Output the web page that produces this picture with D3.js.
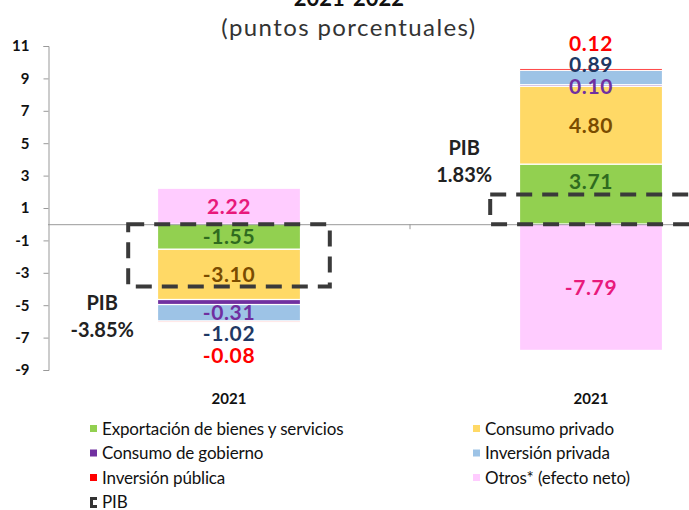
<!DOCTYPE html>
<html>
<head>
<meta charset="utf-8">
<script src="https://cdn.jsdelivr.net/npm/d3@7"></script>
<style>
  body { margin: 0; background: #fff; }
  text { font-family: Lato, "Open Sans", sans-serif; }
</style>
</head>
<body>
<div class="chart"></div>
<script>
// data (puntos porcentuales)
var years = ["2021", "2021"];
var seriesNames = ["Exportación de bienes y servicios", "Consumo privado", "Consumo de gobierno",
  "Inversión privada", "Inversión pública", "Otros* (efecto neto)"];
var exportacion = [-1.55, 3.71];
var consumoPrivado = [-3.10, 4.80];
var consumoGobierno = [-0.31, 0.10];
var inversionPrivada = [-1.02, 0.89];
var inversionPublica = [-0.08, 0.12];
var otros = [2.22, -7.79];
var pib = [-3.85, 1.83];
var yTicks = [-9, -7, -5, -3, -1, 1, 3, 5, 7, 9, 11];

// styles
var fills = ["#92d050", "#ffd966", "#7030a0", "#9dc3e6", "#ff0000", "#ffccff"];
var labelColors = ["#2f6b1f", "#7a4c00", "#7030a0", "#1f3864", "#ff0000", "#e8197b"];

var svgWidth = 689;
var svgHeight = 510;

// plain hyphen for negatives, like the original
var locale = d3.formatLocale({ decimal: ".", thousands: ",", grouping: [3], currency: ["", ""], minus: "-" });
var fmt = locale.format(".2f");

var svg = d3.select(".chart")
  .append("svg")
  .attr("width", svgWidth)
  .attr("height", svgHeight);

// build table for the stack
var allSeries = [exportacion, consumoPrivado, consumoGobierno, inversionPrivada, inversionPublica, otros];
var keys = d3.range(allSeries.length);
var table = years.map(function(y, i) {
  var row = { idx: i };
  keys.forEach(function(k) { row[k] = allSeries[k][i]; });
  return row;
});

var stacked = d3.stack()
  .keys(keys)
  .offset(d3.stackOffsetDiverging)(table);

var x = d3.scaleBand()
  .domain(d3.range(years.length))
  .range([48, 772])
  .paddingInner(0.605)
  .paddingOuter(0.3025);

var y = d3.scaleLinear()
  .domain([-9, 11])
  .range([370, 46]);

// title (cut at top as in the original)
svg.append("text")
  .attr("x", 349).attr("y", 6)
  .attr("text-anchor", "middle")
  .style("font-size", "22px").style("font-weight", "bold").style("fill", "#111")
  .text("2021-2022");
svg.append("text")
  .attr("x", 349).attr("y", 36)
  .attr("text-anchor", "middle")
  .style("font-size", "24px").style("letter-spacing", "1.4px").style("fill", "#333")
  .text("(puntos porcentuales)");

// y axis
var yAxis = svg.append("g")
  .attr("transform", "translate(48.5,0)")
  .call(d3.axisLeft(y).tickValues(yTicks).tickSize(5).tickPadding(14).tickFormat(locale.format("d")));
yAxis.select(".domain").attr("stroke", "#999");
yAxis.selectAll(".tick line").attr("stroke", "#999");
yAxis.selectAll(".tick text")
  .style("font-size", "15px").style("font-weight", "bold").style("fill", "#111")
  .style("font-family", "Lato, sans-serif");

// bars
var layers = svg.append("g").selectAll("g")
  .data(stacked)
  .enter()
  .append("g")
  .attr("fill", function(d) { return fills[d.key]; });

layers.selectAll("rect")
  .data(function(d) { return d; })
  .enter()
  .append("rect")
  .attr("x", function(d) { return x(d.data.idx); })
  .attr("width", x.bandwidth())
  .attr("y", function(d) { return y(d[1]); })
  .attr("height", function(d) { return y(d[0]) - y(d[1]); })
  .attr("stroke", "#fff")
  .attr("stroke-width", 1.2);

// zero line with category ticks
svg.append("line")
  .attr("x1", 48).attr("x2", svgWidth)
  .attr("y1", y(0) + 0.5).attr("y2", y(0) + 0.5)
  .attr("stroke", "#999");
svg.append("line")
  .attr("x1", 48 + x.step()).attr("x2", 48 + x.step())
  .attr("y1", y(0)).attr("y2", y(0) + 5)
  .attr("stroke", "#999");

// PIB dashed boxes
var boxHalf = x.bandwidth() * 0.705;
svg.append("g").selectAll("rect")
  .data(pib)
  .enter()
  .append("rect")
  .attr("x", function(d, i) { return x(i) + x.bandwidth() / 2 - boxHalf; })
  .attr("width", boxHalf * 2)
  .attr("y", function(d) { return Math.min(y(d), y(0)); })
  .attr("height", function(d) { return Math.abs(y(d) - y(0)); })
  .attr("fill", "none")
  .attr("stroke", "#3a3a3a")
  .attr("stroke-width", 4)
  .attr("stroke-dasharray", "16,10");

// PIB labels
pib.forEach(function(v, i) {
  var tx = x(i) + x.bandwidth() / 2 - boxHalf - 26;
  var l1 = v < 0 ? y(v) + 23 : y(v) - 40;
  var g = svg.append("g").style("font-size", "20px").style("font-weight", "bold").style("fill", "#222");
  g.append("text").attr("x", tx).attr("y", l1).attr("text-anchor", "middle").text("PIB");
  g.append("text").attr("x", tx).attr("y", l1 + 27).attr("text-anchor", "middle")
    .text(fmt(v) + "%");
});

// segment labels
var labelG = svg.append("g");
years.forEach(function(yr, i) {
  var cx = x(i) + x.bandwidth() / 2;
  var small = 0;
  stacked.forEach(function(layer) {
    var seg = layer[i];
    var v = allSeries[layer.key][i];
    var yy;
    if (Math.abs(v) < 1.2) {
      // thin segments: labels piled outward from the end of the bar
      var sideLayers = stacked.filter(function(l) { return Math.sign(allSeries[l.key][i]) === Math.sign(v); });
      var end = v < 0 ? d3.min(sideLayers, function(l) { return l[i][0]; }) : d3.max(sideLayers, function(l) { return l[i][1]; });
      var dir = v < 0 ? 1 : -1;
      yy = y(end) + dir * (small * 21.5 - 14) + 4;
      small++;
    } else {
      yy = (y(seg[0]) + y(seg[1])) / 2;
      if (Math.abs(yy - y(pib[i])) < 6) yy -= 13;
    }
    labelG.append("text")
      .attr("x", cx)
      .attr("y", yy)
      .attr("dy", "0.36em")
      .attr("text-anchor", "middle")
      .style("font-size", "21px")
      .style("letter-spacing", "0.6px")
      .style("font-weight", "bold")
      .style("fill", labelColors[layer.key])
      .text(fmt(v));
  });
});

// x labels
var xAxis = svg.append("g")
  .attr("transform", "translate(0,390)")
  .call(d3.axisBottom(x).tickSize(0).tickFormat(function(d) { return years[d]; }));
xAxis.select(".domain").remove();
xAxis.selectAll("text")
  .style("font-size", "15px").style("font-weight", "bold").style("fill", "#111")
  .style("font-family", "Lato, sans-serif");

// legend
var legendItems = seriesNames.map(function(n, i) { return { name: n, color: fills[i] }; });
legendItems.push({ name: "PIB", color: null });
var legend = svg.append("g").selectAll("g")
  .data(legendItems)
  .enter()
  .append("g")
  .attr("transform", function(d, i) {
    return "translate(" + (i % 2 === 0 ? 90 : 473) + "," + (429 + Math.floor(i / 2) * 24.5) + ")";
  });
legend.filter(function(d) { return d.color; })
  .append("rect")
  .attr("x", 0).attr("y", -4)
  .attr("width", 7).attr("height", 7)
  .attr("fill", function(d) { return d.color; });
legend.filter(function(d) { return !d.color; })
  .append("path")
  .attr("d", "M7,-4 H1.5 V4 H7")
  .attr("fill", "none")
  .attr("stroke", "#333")
  .attr("stroke-width", 3);
legend.append("text")
  .attr("x", 12)
  .attr("dy", "0.35em")
  .style("font-size", "17px")
  .style("letter-spacing", "-0.15px")
  .style("fill", "#111")
  .text(function(d) { return d.name; });
</script>
</body>
</html>
